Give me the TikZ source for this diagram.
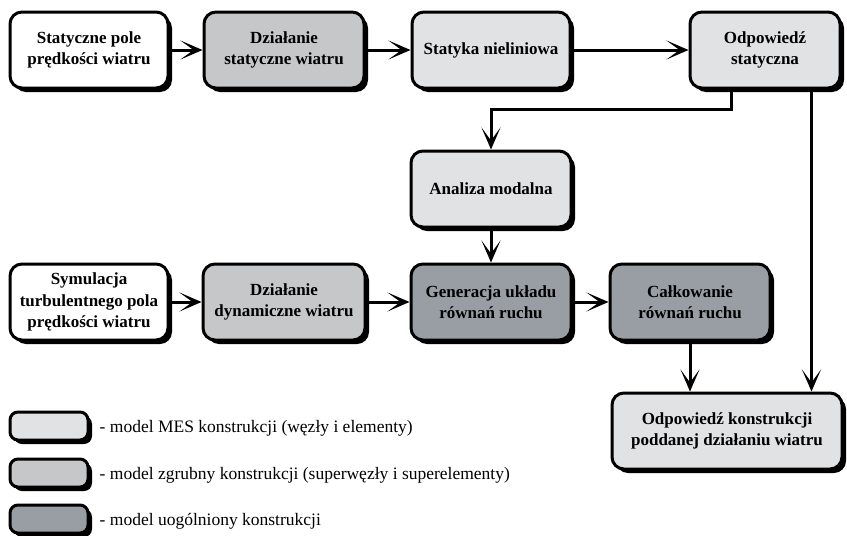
\documentclass[tikz,border=0pt]{standalone}
\usepackage{fontspec}
\setmainfont{Liberation Serif}
\usetikzlibrary{arrows.meta,shadows}

\definecolor{mesgray}{HTML}{E1E2E4}
\definecolor{crsgray}{HTML}{C6C7C9}
\definecolor{gengray}{HTML}{999EA4}

\tikzset{every picture/.style={line width=0.75pt}}
\tikzset{
	blok/.style={draw=black, line width=3pt, rounded corners=12pt, align=center,
		minimum height=76pt, inner sep=2pt,
		font=\fontsize{17}{21.5}\selectfont\bfseries,
		drop shadow={shadow xshift=4pt, shadow yshift=-4pt, fill=black, opacity=1}},
	legblok/.style={blok, minimum width=78pt, minimum height=28pt, rounded corners=8pt},
	strz/.style={line width=3pt, -{Stealth[length=22pt,width=19pt,inset=13pt]}},
	opis/.style={anchor=west, font=\fontsize{17.5}{20}\selectfont}
}

\begin{document}
\begin{tikzpicture}[x=1pt,y=-1pt]
		\useasboundingbox (0,0) rectangle (847,536);
		% gorny rzad
		\node[blok, fill=white, minimum width=158pt] (pole) at (89,50) {Statyczne pole\\prędkości wiatru};
		\node[blok, fill=crsgray, minimum width=160pt] (dzstat) at (284,50) {Działanie\\statyczne wiatru};
		\node[blok, fill=mesgray, minimum width=158pt] (statyka) at (491,50) {Statyka nieliniowa};
		\node[blok, fill=mesgray, minimum width=150pt] (odpstat) at (765,50) {Odpowiedź\\statyczna};
		% srodek
		\node[blok, fill=mesgray, minimum width=160pt] (modal) at (491,189) {Analiza modalna};
		% dolny rzad
		\node[blok, fill=white, minimum width=158pt] (symul) at (89,302) {Symulacja\\turbulentnego pola\\prędkości wiatru};
		\node[blok, fill=crsgray, minimum width=162pt] (dzdyn) at (284,302) {Działanie\\dynamiczne wiatru};
		\node[blok, fill=gengray, minimum width=160pt] (gener) at (491,302) {Generacja układu\\równań ruchu};
		\node[blok, fill=gengray, minimum width=160pt] (calk) at (690,302) {Całkowanie\\równań ruchu};
		\node[blok, fill=mesgray, minimum width=230pt] (odpkon) at (727,431) {Odpowiedź konstrukcji\\poddanej działaniu wiatru};
		% strzalki
		\draw[strz] (pole) -- (dzstat);
		\draw[strz] (dzstat) -- (statyka);
		\draw[strz] (statyka) -- (odpstat);
		\draw[strz] ([xshift=-34pt]odpstat.south) -- ++(0,20) -| (modal.north);
		\draw[strz] ([xshift=-30pt]odpstat.south east) -- ([xshift=-30pt]odpstat.south east |- odpkon.north);
		\draw[strz] (modal) -- (gener);
		\draw[strz] (symul) -- (dzdyn);
		\draw[strz] (dzdyn) -- (gener);
		\draw[strz] (gener) -- (calk);
		\draw[strz] (calk.south) -- (calk.south |- odpkon.north);
		% legenda
		\node[legblok, fill=mesgray] (leg1) at (49,426) {};
		\node[legblok, fill=crsgray] (leg2) at (49,473) {};
		\node[legblok, fill=gengray] (leg3) at (49,519) {};
		\node[opis] (opis1) at (96,428) {- model MES konstrukcji (węzły i elementy)};
		\node[opis] (opis2) at (96,475) {- model zgrubny konstrukcji (superwęzły i superelementy)};
		\node[opis] (opis3) at (96,521) {- model uogólniony konstrukcji};
	\end{tikzpicture}
\end{document}
